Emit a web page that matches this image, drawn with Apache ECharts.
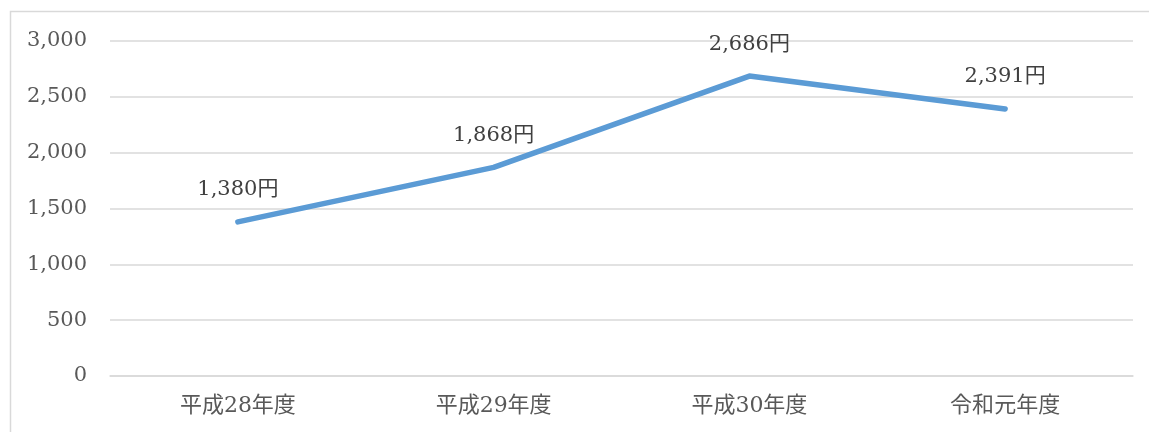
<!DOCTYPE html>
<html><head><meta charset="utf-8">
<script src="https://cdn.jsdelivr.net/npm/echarts@6/dist/echarts.min.js"></script>
<style>html,body{margin:0;padding:0;background:#fff}#c{width:1149px;height:432px}</style>
</head><body><div id="c"></div>
<script>
const categories = ['平成28年度', '平成29年度', '平成30年度', '令和元年度'];
const values = [1380, 1868, 2686, 2391];
const yTicks = { min: 0, max: 3000, interval: 500 };
const unit = '円';

const font = '"DejaVu Serif", "Noto Sans CJK JP", serif';
const chart = echarts.init(document.getElementById('c'), null, { renderer: 'canvas' });
chart.setOption({
  animation: false,
  backgroundColor: '#fff',
  graphic: [{
    type: 'rect', shape: { x: 10.5, y: 11.5, width: 1400, height: 600 },
    style: { fill: 'none', stroke: '#d9d9d9', lineWidth: 1.5 }, silent: true
  }],
  grid: { left: 110, right: 16, top: 41, bottom: 56 },
  xAxis: {
    type: 'category', data: categories, boundaryGap: true,
    axisLine: { show: true, lineStyle: { color: '#d9d9d9', width: 1.5 } },
    axisTick: { show: false },
    axisLabel: { color: '#595959', fontFamily: font, fontSize: 22, margin: 19 }
  },
  yAxis: {
    type: 'value', min: yTicks.min, max: yTicks.max, interval: yTicks.interval,
    axisLine: { show: false }, axisTick: { show: false },
    splitLine: { lineStyle: { color: '#d9d9d9', width: 1.5 } },
    axisLabel: {
      color: '#595959', fontFamily: font, fontSize: 21, margin: 23,
      formatter: v => v.toLocaleString('en-US')
    }
  },
  series: [{
    type: 'line', data: values, showSymbol: true, symbol: 'circle', symbolSize: 1,
    itemStyle: { color: 'rgba(0,0,0,0)', borderWidth: 0 },
    lineStyle: { color: '#5B9BD5', width: 5.5, cap: 'round', join: 'round' },
    label: {
      show: true, position: 'top', distance: 21, color: '#404040',
      fontFamily: font, fontSize: 21,
      formatter: p => p.value.toLocaleString('en-US') + unit
    }
  }]
});
</script></body></html>
